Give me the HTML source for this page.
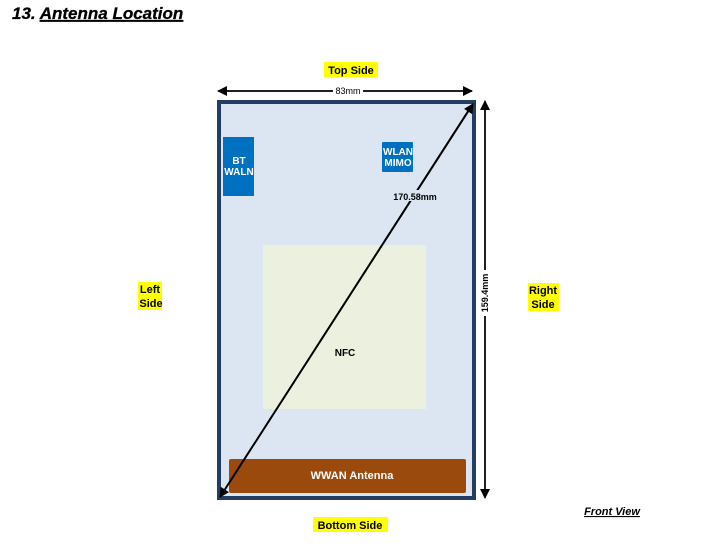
<!DOCTYPE html>
<html><head><style>
body{margin:0;background:#fff;width:704px;height:553px;overflow:hidden;font-family:"Liberation Sans",Arial,sans-serif}
</style></head><body>
<svg width="704" height="553" xmlns="http://www.w3.org/2000/svg" font-family="Liberation Sans, Arial, sans-serif">
<defs>
<marker id="a" markerWidth="10" markerHeight="10" refX="9" refY="5" orient="auto" markerUnits="userSpaceOnUse"><path d="M0,0 L10,5 L0,10 z" fill="#000"/></marker>
</defs>
<text x="12" y="19" font-size="17" font-weight="bold" font-style="italic" fill="#000" stroke="#000" stroke-width="0.3">13. <tspan text-decoration="underline">Antenna Location</tspan></text>
<rect x="324" y="62" width="54" height="15" fill="#ffff00"/>
<text x="351" y="74" font-size="11" font-weight="bold" text-anchor="middle">Top Side</text>
<rect x="313" y="517" width="75" height="15" fill="#ffff00"/>
<text x="350" y="529" font-size="11" font-weight="bold" text-anchor="middle">Bottom Side</text>
<rect x="138" y="282" width="24" height="28" fill="#ffff00"/>
<text x="150" y="293" font-size="11" font-weight="bold" text-anchor="middle">Left</text>
<text x="151" y="307" font-size="11" font-weight="bold" text-anchor="middle">Side</text>
<rect x="528" y="283" width="31" height="28" fill="#ffff00"/>
<text x="543" y="294" font-size="11" font-weight="bold" text-anchor="middle">Right</text>
<text x="543" y="308" font-size="11" font-weight="bold" text-anchor="middle">Side</text>
<rect x="219" y="102" width="255" height="396" fill="#dce6f2" stroke="#233e62" stroke-width="4"/>
<rect x="223" y="137" width="31" height="59" fill="#0070c0"/>
<text x="239" y="164" font-size="10" font-weight="bold" fill="#fff" text-anchor="middle">BT</text>
<text x="239" y="175" font-size="10" font-weight="bold" fill="#fff" text-anchor="middle">WALN</text>
<rect x="382" y="142" width="31" height="30" fill="#0070c0" rx="1"/>
<text x="398" y="155" font-size="10" font-weight="bold" fill="#fff" text-anchor="middle">WLAN</text>
<text x="398" y="166" font-size="10" font-weight="bold" fill="#fff" text-anchor="middle">MIMO</text>
<rect x="263" y="245" width="163" height="164" fill="#ebf1de"/>
<text x="345" y="356" font-size="10" font-weight="bold" text-anchor="middle">NFC</text>
<rect x="229" y="459" width="237" height="34" fill="#9a4a0c" rx="2"/>
<text x="352" y="479" font-size="11" font-weight="bold" fill="#fff" text-anchor="middle">WWAN Antenna</text>
<line x1="222" y1="91" x2="472" y2="91" stroke="#000" stroke-width="1.5" marker-end="url(#a)"/>
<line x1="472" y1="91" x2="218" y2="91" stroke="#000" stroke-width="1.5" marker-end="url(#a)"/>
<rect x="333" y="86" width="30" height="10" fill="#fff"/>
<text x="348" y="94" font-size="9" text-anchor="middle">83mm</text>
<line x1="485" y1="104" x2="485" y2="498" stroke="#000" stroke-width="1.5" marker-end="url(#a)"/>
<line x1="485" y1="494" x2="485" y2="101" stroke="#000" stroke-width="1.5" marker-end="url(#a)"/>
<line x1="222" y1="494" x2="473" y2="104" stroke="#000" stroke-width="1.8" marker-end="url(#a)"/>
<line x1="472" y1="105" x2="220" y2="497" stroke="#000" stroke-width="1.8" marker-end="url(#a)"/>
<rect x="390" y="190" width="50" height="11" fill="#dce6f2"/>
<text x="415" y="200" font-size="9" font-weight="bold" text-anchor="middle">170.58mm</text>
<rect x="481" y="270" width="9" height="46" fill="#fff"/>
<text transform="translate(488,293) rotate(-90)" font-size="9" font-weight="bold" text-anchor="middle">159.4mm</text>
<text x="612" y="515" font-size="11" font-weight="bold" font-style="italic" text-anchor="middle" text-decoration="underline">Front View</text>
</svg>
</body></html>
